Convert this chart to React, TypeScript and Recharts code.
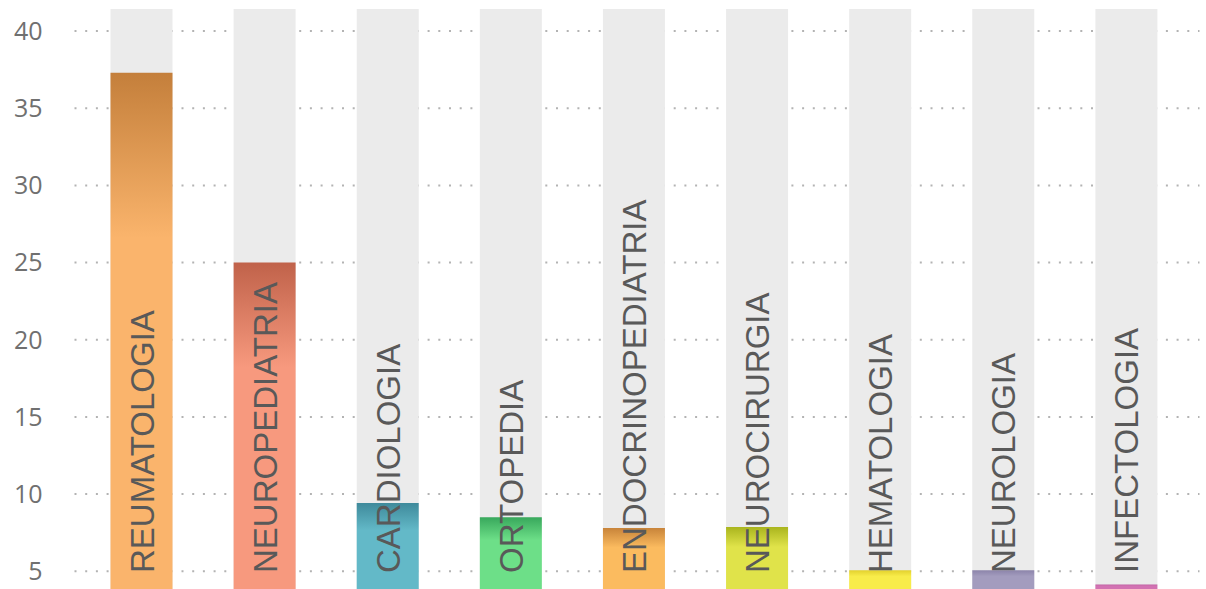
import React from 'react';
import { BarChart, Bar, XAxis, YAxis, CartesianGrid, Cell, LabelList } from 'recharts';

const categories = [
  'REUMATOLOGIA',
  'NEUROPEDIATRIA',
  'CARDIOLOGIA',
  'ORTOPEDIA',
  'ENDOCRINOPEDIATRIA',
  'NEUROCIRURGIA',
  'HEMATOLOGIA',
  'NEUROLOGIA',
  'INFECTOLOGIA',
];
const values = [37.3, 25.0, 9.42, 8.5, 7.8, 7.86, 5.06, 5.06, 4.14];
const yTicks = [5, 10, 15, 20, 25, 30, 35, 40];
const darkColors = ['#c47f3b', '#c0624a', '#3f8a9b', '#38a85c', '#c8843a', '#aab51e', '#e3d12e', '#8c84aa', '#c05fa2'];
const lightColors = ['#fab46c', '#f7997e', '#63b9c8', '#6ddf88', '#fbbb5f', '#e0e34a', '#f8ec4a', '#a39cbe', '#d272b2'];

const data = categories.map((name, i) => ({ name, value: values[i] }));

const GridLine = (props: any) => {
  const { x1, x2, y1, y2 } = props;
  if (y1 < 20 || y1 > 585) return <g />;
  return (
    <line
      x1={x1 - 5}
      x2={x2 + 12}
      y1={y1}
      y2={y2}
      stroke="#b3b3b3"
      strokeWidth={2}
      strokeDasharray="2 8.7"
    />
  );
};

const BarLabel = (props: any) => {
  const { x, y, width, height, value } = props;
  const cx = x + width / 2 + 12;
  const by = y + height - 16;
  return (
    <text
      x={cx}
      y={by}
      transform={`rotate(-90 ${cx} ${by})`}
      textAnchor="start"
      fill="#595959"
      fontSize={33}
      fontFamily="'Liberation Sans', Arial, sans-serif"
    >
      {value}
    </text>
  );
};

export default function App() {
  return (
    <div style={{ position: 'absolute', left: 0, top: 0, width: 1206, height: 589, background: '#fff' }}>
      <BarChart
        width={1206}
        height={589}
        data={data}
        margin={{ top: 9, right: 18.5, bottom: 0, left: 0 }}
        barSize={62}
      >
        <defs>
          {categories.map((c, i) => (
            <linearGradient key={c} id={`grad-${i}`} x1="0" y1="0" x2="0" y2="1">
              <stop offset="0" stopColor={darkColors[i]} />
              <stop offset="0.32" stopColor={lightColors[i]} />
              <stop offset="1" stopColor={lightColors[i]} />
            </linearGradient>
          ))}
        </defs>
        <CartesianGrid vertical={false} horizontal={GridLine as any} horizontalValues={yTicks} />
        <XAxis dataKey="name" hide />
        <YAxis
          width={79.5}
          domain={[3.85, 41.43]}
          ticks={yTicks}
          allowDataOverflow
          axisLine={false}
          tickLine={false}
          tickSize={0}
          tickMargin={37}
          tick={{ fill: '#707070', fontSize: 25, fontFamily: "'Open Sans', sans-serif" }}
        />
        <Bar dataKey="value" isAnimationActive={false} background={{ fill: '#ebebeb' }}>
          {data.map((d, i) => (
            <Cell key={d.name} fill={`url(#grad-${i})`} />
          ))}
          <LabelList dataKey="name" content={BarLabel as any} />
        </Bar>
      </BarChart>
    </div>
  );
}
